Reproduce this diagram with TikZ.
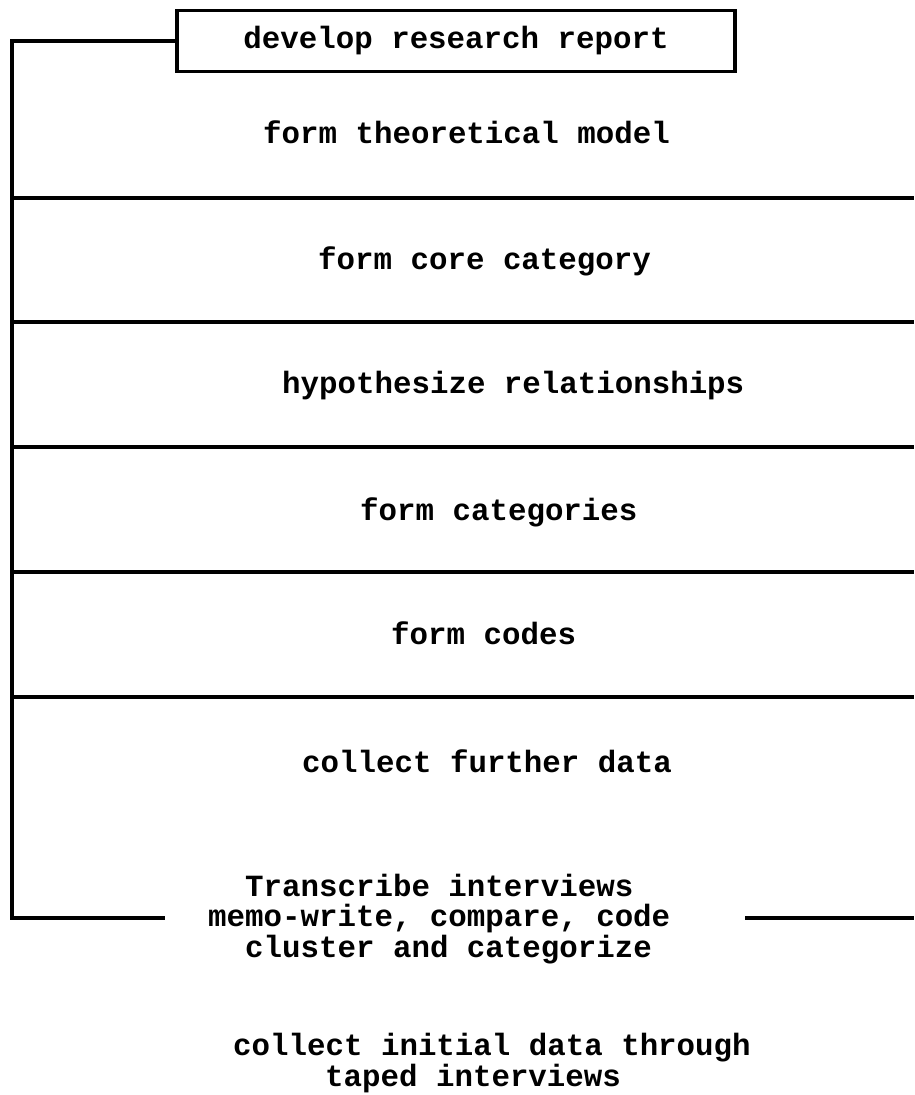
\documentclass[tikz,border=0pt]{standalone}
\usepackage{fontspec}
\setmonofont{Liberation Mono}
\begin{document}
\begin{tikzpicture}[x=1pt,y=-1pt,
  rule/.style={line width=3.2pt},
  typed/.style={font=\fontsize{30.8}{31}\selectfont\ttfamily\bfseries, inner sep=0pt, anchor=base west},
  reportbox/.style={font=\fontsize{30.8}{31}\selectfont\ttfamily\bfseries, inner sep=0pt,
    draw, line width=3.2pt, minimum width=558pt, minimum height=61pt}]
\useasboundingbox (0,0) rectangle (914,1095);

% top box and the loop back from the data collection stage
\node[reportbox] (report) at (456,41) {develop research report};
\coordinate (topleft) at (12,41);
\coordinate (botleft) at (12,918);
\coordinate (botleftend) at (165,918);
\coordinate (botrightstart) at (745,918);
\coordinate (botright) at (914,918);
\draw[rule] (report.west) -- (topleft) -- (botleft) -- (botleftend);
\draw[rule] (botrightstart) -- (botright);

% stage dividers
\foreach \y in {198,322,447,572,697}
  \draw[rule] (12,\y) -- (914,\y);

% stage labels
\node[typed] (model) at (263,143) {form theoretical model};
\node[typed] (core) at (318,269) {form core category};
\node[typed] (hypo) at (282,393) {hypothesize relationships};
\node[typed] (cats) at (360,520) {form categories};
\node[typed] (codes) at (391,644) {form codes};
\node[typed] (further) at (302,772) {collect further data};
\node[typed] (transcribe) at (245,896) {Transcribe interviews};
\node[typed] (memo) at (208,926) {memo-write, compare, code};
\node[typed] (cluster) at (245,957) {cluster and categorize};
\node[typed] (initial) at (233,1055) {collect initial data through};
\node[typed] (taped) at (325,1086) {taped interviews};
\end{tikzpicture}
\end{document}
